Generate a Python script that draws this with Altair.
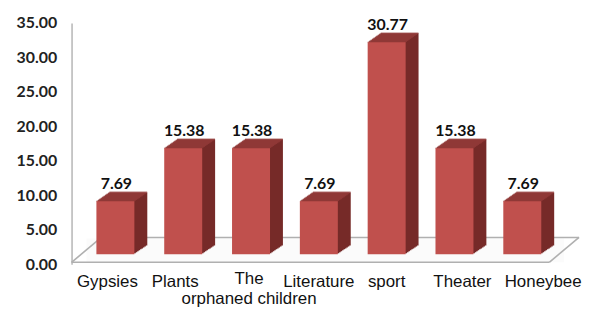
import altair as alt
import pandas as pd

categories = ["Gypsies", "Plants", "The orphaned children", "Literature", "sport", "Theater", "Honeybee"]
values = [7.69, 15.38, 15.38, 7.69, 30.77, 15.38, 7.69]
y_ticks = [0, 5, 10, 15, 20, 25, 30, 35]

df = pd.DataFrame({"cat": categories, "val": values})

FRONT = "#c0504d"
TOP = "#963c3a"
SIDE = "#762a28"
BASE_OFF = -10   # bar base sits above axis zero (perspective)
DX, DY = 13, 9   # depth of bars in px
BW = 38

xscale = alt.Scale(domain=categories, range=[10, 488], paddingInner=0.44, paddingOuter=0.22)
yscale = alt.Scale(domain=[0, 35], nice=False)

label_offset = {
    "condition": [
        {"test": "datum.label == 'Honeybee'", "value": 21},
        {"test": "datum.label == 'Theater'", "value": 8},
        {"test": "datum.label == 'Gypsies' || datum.label == 'Plants'", "value": -8},
        {"test": "datum.label == 'The orphaned children'", "value": -2},
    ],
    "value": 0,
}
label_padding = {
    "condition": {"test": "datum.label == 'The orphaned children'", "value": 6},
    "value": 9,
}

x_enc = alt.X("cat:N", scale=xscale, sort=categories, title=None,
              axis=alt.Axis(domain=False, ticks=False, labelAngle=0, labelPadding=label_padding,
                            labelOffset=label_offset,
                            labelFont="Liberation Sans", labelFontSize=17, labelColor="#111",
                            labelLineHeight=21, labelBaseline="top",
                            labelExpr="datum.label == 'The orphaned children' ? ['The', 'orphaned children'] : datum.label"))
y_enc = alt.Y("val:Q", scale=yscale, title=None,
              axis=alt.Axis(values=y_ticks, format=".2f", grid=False, ticks=False,
                            domainColor="#b5b5b5", domainWidth=1.5, labelPadding=15,
                            labelFont="Lato", labelFontWeight="bold", labelFontSize=16,
                            labelColor="#222"))

base = alt.Chart(df)

# floor (decoration, pixel positions)
floor_fill = alt.Chart(pd.DataFrame({"a": [0]})).mark_rect(color="#fbfbfb").encode(
    x=alt.value(15), x2=alt.value(496), y=alt.value(217), y2=alt.value(241))
floor_lines = [
    alt.Chart(pd.DataFrame({"a": [0]})).mark_rule(color="#b0b0b0", strokeWidth=1.6).encode(
        x=alt.value(x1), x2=alt.value(x2), y=alt.value(y1), y2=alt.value(y2))
    for (x1, y1, x2, y2) in [(0, 241, 481, 241), (30, 216, 511, 216), (0, 241, 30, 216), (481, 241, 511, 216)]
]

layers = [floor_fill] + floor_lines

# extruded body (side colour)
for k in range(1, DY + 1):
    layers.append(base.mark_bar(color=SIDE, xOffset=DX * k / DY, yOffset=BASE_OFF - k).encode(
        x=x_enc, y=y_enc))
# top face
for k in range(0, DY + 1):
    layers.append(base.mark_tick(color=TOP, thickness=1.6, size=BW,
                                 xOffset=DX * k / DY, yOffset=BASE_OFF - k).encode(x=x_enc, y=y_enc))
# front face
layers.append(base.mark_bar(color=FRONT, yOffset=BASE_OFF).encode(x=x_enc, y=y_enc))
# value labels
layers.append(base.mark_text(font="Lato", fontWeight="bold", fontSize=16, color="#111",
                             baseline="alphabetic", dy=BASE_OFF - 12, dx=1).encode(
    x=x_enc, y=y_enc, text=alt.Text("val:Q", format=".2f")))

chart = alt.layer(*layers).properties(
    width=511, height=243,
    autosize=alt.AutoSizeParams(type="none"),
    padding={"left": 64, "top": 14, "right": 5, "bottom": 45},
    background="white",
).configure_view(stroke=None)

chart.save("out.html", embed_options={"renderer": "svg", "actions": False})
